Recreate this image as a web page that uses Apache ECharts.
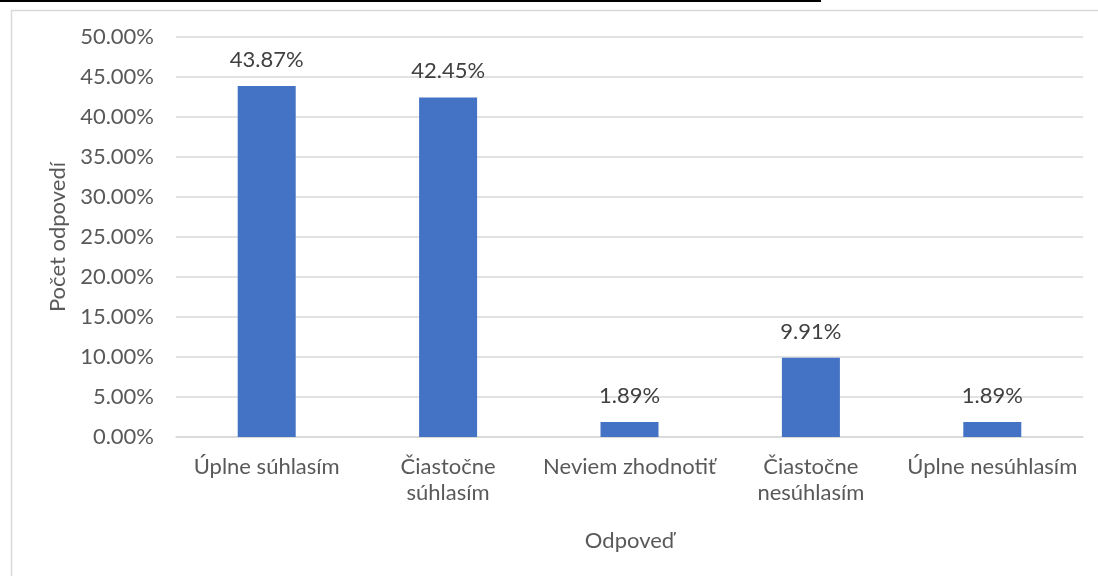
<!DOCTYPE html>
<html>
<head>
<meta charset="utf-8">
<script src="https://cdn.jsdelivr.net/npm/echarts@6/dist/echarts.min.js"></script>
<style>
  html, body { margin: 0; padding: 0; background: #fff; }
  #main { width: 1098px; height: 576px; }
</style>
</head>
<body>
<div id="main"></div>
<script>
// kategórie a hodnoty v percentách
var categories = ['Úplne súhlasím', 'Čiastočne\nsúhlasím', 'Neviem zhodnotiť', 'Čiastočne\nnesúhlasím', 'Úplne nesúhlasím'];
var values = [43.87, 42.45, 1.89, 9.91, 1.89];
var yMax = 50;
var yStep = 5;

var font = 'Lato, "Open Sans", sans-serif';

var chart = echarts.init(document.getElementById('main'));
chart.setOption({
  animation: false,
  textStyle: { fontFamily: font },
  graphic: [
    // orezaný riadok textu nad grafom
    { type: 'rect', left: 0, top: 0, shape: { width: 821, height: 2 }, style: { fill: '#000' } },
    // rámček grafu
    { type: 'rect', left: 9, top: 8, shape: { width: 1200, height: 700 }, style: { fill: 'none', stroke: '#d9d9d9', lineWidth: 1.5 } }
  ],
  grid: { left: 176, right: 15, top: 37, bottom: 139 },
  xAxis: {
    type: 'category',
    data: categories,
    name: 'Odpoveď',
    nameLocation: 'middle',
    nameGap: 93,
    nameTextStyle: { fontSize: 22, color: '#595959', fontFamily: font },
    axisLine: { lineStyle: { color: '#d9d9d9', width: 1.5 } },
    axisTick: { show: false },
    axisLabel: { fontSize: 22, color: '#595959', margin: 17, lineHeight: 26, interval: 0, fontFamily: font }
  },
  yAxis: {
    type: 'value',
    min: 0,
    max: yMax,
    interval: yStep,
    name: 'Počet odpovedí',
    nameLocation: 'middle',
    nameGap: 104,
    nameTextStyle: { fontSize: 22, color: '#595959', fontFamily: font },
    axisLine: { show: false },
    axisTick: { show: false },
    splitLine: { lineStyle: { color: '#d9d9d9', width: 1.5 } },
    axisLabel: {
      fontSize: 22, color: '#595959', margin: 22, fontFamily: font,
      formatter: function (v) { return v.toFixed(2) + '%'; }
    }
  },
  series: [{
    type: 'bar',
    data: values,
    barWidth: 58,
    itemStyle: { color: '#4472c4' },
    label: {
      show: true,
      position: 'top',
      distance: 15,
      fontSize: 22,
      color: '#404040',
      fontFamily: font,
      formatter: function (p) { return p.value.toFixed(2) + '%'; }
    }
  }]
});
</script>
</body>
</html>
